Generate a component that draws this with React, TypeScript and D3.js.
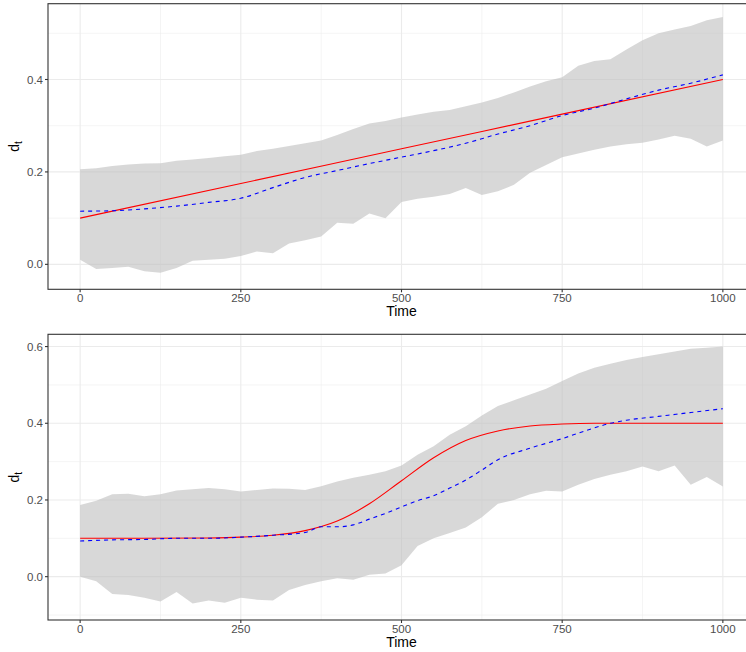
import React from 'react';
import * as d3 from 'd3';

// time grid for the ribbons (read every 25 steps)
const bandTime = d3.range(0, 1001, 25);
const timeTicks = [0, 250, 500, 750, 1000];

// panel 1: linear d_t
const topUpper = [0.206, 0.208, 0.213, 0.216, 0.218, 0.219, 0.224, 0.227, 0.23, 0.234, 0.237,
  0.245, 0.25, 0.256, 0.262, 0.268, 0.28, 0.293, 0.305, 0.31, 0.318, 0.324, 0.33, 0.334, 0.342,
  0.35, 0.36, 0.372, 0.385, 0.396, 0.405, 0.43, 0.44, 0.444, 0.465, 0.485, 0.5, 0.508, 0.516, 0.528, 0.535];
const topLower = [0.01, -0.01, -0.008, -0.005, -0.015, -0.018, -0.008, 0.008, 0.01, 0.012, 0.018,
  0.028, 0.024, 0.045, 0.052, 0.06, 0.09, 0.088, 0.11, 0.1, 0.135, 0.142, 0.146, 0.152, 0.165,
  0.15, 0.158, 0.172, 0.198, 0.215, 0.232, 0.24, 0.248, 0.255, 0.26, 0.263, 0.27, 0.278, 0.272, 0.255, 0.268];
const topTrueT = [0, 250, 500, 750, 1000];
const topTrue = [0.1, 0.175, 0.25, 0.325, 0.4];
const topEstT = [0, 50, 100, 150, 200, 250, 300, 350, 400, 450, 500, 550, 600, 650, 700, 750, 800, 850, 900, 950, 1000];
const topEst = [0.115, 0.116, 0.12, 0.126, 0.134, 0.143, 0.166, 0.188, 0.203, 0.218, 0.232, 0.246,
  0.262, 0.282, 0.3, 0.322, 0.338, 0.358, 0.377, 0.392, 0.41];
const topYTicks = [0, 0.2, 0.4];
const topYMinor = [0.1, 0.3, 0.5];

// panel 2: logistic d_t
const botUpper = [0.187, 0.198, 0.215, 0.216, 0.21, 0.215, 0.225, 0.228, 0.231, 0.228, 0.222,
  0.226, 0.23, 0.229, 0.226, 0.236, 0.248, 0.258, 0.266, 0.275, 0.29, 0.318, 0.34, 0.37, 0.392,
  0.42, 0.445, 0.46, 0.475, 0.49, 0.51, 0.53, 0.545, 0.555, 0.565, 0.573, 0.58, 0.587, 0.594, 0.597, 0.6];
const botLower = [0.0, -0.012, -0.045, -0.048, -0.055, -0.065, -0.04, -0.07, -0.062, -0.068, -0.055,
  -0.06, -0.062, -0.035, -0.022, -0.012, -0.004, -0.008, 0.005, 0.008, 0.03, 0.08, 0.1, 0.114, 0.128,
  0.155, 0.19, 0.2, 0.215, 0.224, 0.222, 0.24, 0.255, 0.266, 0.275, 0.287, 0.275, 0.29, 0.24, 0.26, 0.235];
const botTrueT = [0, 100, 200, 250, 300, 350, 400, 450, 500, 550, 600, 650, 700, 750, 800, 1000];
const botTrue = [0.1, 0.1, 0.101, 0.103, 0.108, 0.12, 0.145, 0.19, 0.25, 0.31, 0.355, 0.38, 0.393, 0.398, 0.4, 0.4];
const botEstT = [0, 50, 100, 150, 200, 250, 300, 350, 375, 400, 425, 450, 475, 500, 525, 550, 575, 600,
  625, 650, 700, 750, 800, 825, 850, 900, 950, 1000];
const botEst = [0.093, 0.096, 0.097, 0.1, 0.1, 0.103, 0.108, 0.115, 0.13, 0.13, 0.135, 0.15, 0.165,
  0.182, 0.198, 0.211, 0.231, 0.252, 0.278, 0.305, 0.335, 0.36, 0.388, 0.4, 0.408, 0.418, 0.428, 0.438];
const botYTicks = [0, 0.2, 0.4, 0.6];
const botYMinor = [-0.1, 0.1, 0.3, 0.5];

const W = 746;
const H = 652;
const left = 48;
const right = 755;

const panels = [
  { top: 3.7, bottom: 289.3, yDomain: [-0.054, 0.564], upper: topUpper, lower: topLower,
    trueT: topTrueT, trueV: topTrue, estT: topEstT, estV: topEst, yTicks: topYTicks, yMinor: topYMinor },
  { top: 334.3, bottom: 620, yDomain: [-0.113, 0.632], upper: botUpper, lower: botLower,
    trueT: botTrueT, trueV: botTrue, estT: botEstT, estV: botEst, yTicks: botYTicks, yMinor: botYMinor },
];

const font = '"Liberation Sans", Arial, Helvetica, sans-serif';

function Panel({ p }: { p: any }) {
  const x = d3.scaleLinear().domain([-50, 1050]).range([left, right]);
  const y = d3.scaleLinear().domain(p.yDomain).range([p.bottom, p.top]);
  const xMinor = timeTicks.slice(0, -1).map((t, i) => (t + timeTicks[i + 1]) / 2);

  const area = d3.area<number>()
    .x((_, i) => x(bandTime[i]))
    .y0((_, i) => y(p.lower[i]))
    .y1(d => y(d));
  const line = d3.line<number[]>()
    .x(d => x(d[0]))
    .y(d => y(d[1]))
    .curve(d3.curveMonotoneX);

  const trueLine = line(p.trueT.map((t: number, i: number) => [t, p.trueV[i]]));
  const estLine = line(p.estT.map((t: number, i: number) => [t, p.estV[i]]));
  const midY = (p.top + p.bottom) / 2;

  return (
    <g>
      {/* grid */}
      {p.yMinor.map((v: number) => (
        <line key={'ym' + v} x1={left} x2={right} y1={y(v)} y2={y(v)} stroke="#ebebeb" strokeWidth={0.55} />
      ))}
      {xMinor.map(v => (
        <line key={'xm' + v} x1={x(v)} x2={x(v)} y1={p.top} y2={p.bottom} stroke="#ebebeb" strokeWidth={0.55} />
      ))}
      {p.yTicks.map((v: number) => (
        <line key={'y' + v} x1={left} x2={right} y1={y(v)} y2={y(v)} stroke="#ebebeb" strokeWidth={1.1} />
      ))}
      {timeTicks.map(v => (
        <line key={'x' + v} x1={x(v)} x2={x(v)} y1={p.top} y2={p.bottom} stroke="#ebebeb" strokeWidth={1.1} />
      ))}

      <path d={area(p.upper) || ''} fill="#bebebe" fillOpacity={0.6} />
      <path d={trueLine || ''} fill="none" stroke="#ff0000" strokeWidth={1.1} />
      <path d={estLine || ''} fill="none" stroke="#0000ff" strokeWidth={1.1} strokeDasharray="4 4" />

      <rect x={left} y={p.top} width={right - left} height={p.bottom - p.top} fill="none" stroke="#333333" strokeWidth={1.1} />

      {/* axes */}
      {p.yTicks.map((v: number) => (
        <g key={'yt' + v}>
          <line x1={left - 3} x2={left} y1={y(v)} y2={y(v)} stroke="#333333" strokeWidth={1.1} />
          <text x={left - 5} y={y(v)} dy="0.35em" textAnchor="end" fontSize={11.5} fill="#4d4d4d" fontFamily={font}>
            {d3.format('.1f')(v)}
          </text>
        </g>
      ))}
      {timeTicks.map(v => (
        <g key={'xt' + v}>
          <line x1={x(v)} x2={x(v)} y1={p.bottom} y2={p.bottom + 3} stroke="#333333" strokeWidth={1.1} />
          <text x={x(v)} y={p.bottom + 13} textAnchor="middle" fontSize={11.5} fill="#4d4d4d" fontFamily={font}>
            {v}
          </text>
        </g>
      ))}
      <text x={401.5} y={p.bottom + 27} textAnchor="middle" fontSize={14} fill="#000" fontFamily={font}>Time</text>
      <text transform={`translate(19,${midY}) rotate(-90)`} textAnchor="middle" fontSize={14} fill="#000" fontFamily={font}>
        d<tspan fontSize={10} dy={3}>t</tspan>
      </text>
    </g>
  );
}

export default function App() {
  return (
    <svg width={W} height={H} style={{ position: 'absolute', left: 0, top: 0, background: '#fff' }}>
      {panels.map((p, i) => <Panel key={i} p={p} />)}
    </svg>
  );
}
